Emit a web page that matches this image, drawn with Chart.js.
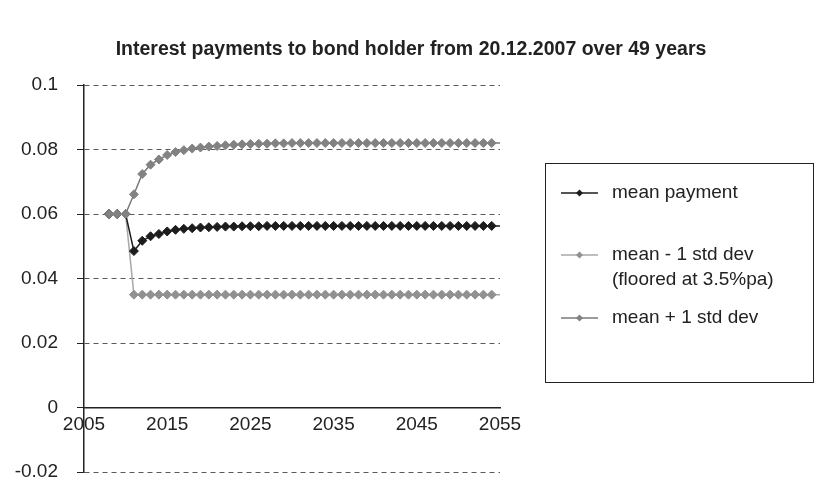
<!DOCTYPE html>
<html>
<head>
<meta charset="utf-8">
<script src="https://cdn.jsdelivr.net/npm/chart.js@4"></script>
<style>
  html, body { margin: 0; padding: 0; background: #fff; }
  #wrapper-chart { width: 814px; height: 480px; }
</style>
</head>
<body>
<div id="wrapper-chart"><canvas id="myChart"></canvas></div>
<script>

  ////////////////////
 // DONNÉES        //
////////////////////

const years = [2008, 2009, 2010, 2011, 2012, 2013, 2014, 2015, 2016, 2017,
               2018, 2019, 2020, 2021, 2022, 2023, 2024, 2025, 2026, 2027,
               2028, 2029, 2030, 2031, 2032, 2033, 2034, 2035, 2036, 2037,
               2038, 2039, 2040, 2041, 2042, 2043, 2044, 2045, 2046, 2047,
               2048, 2049, 2050, 2051, 2052, 2053, 2054, 2055, 2056];

const meanPayment = [0.06, 0.06, 0.06, 0.0485, 0.0517, 0.0531, 0.0538, 0.0546, 0.0551, 0.0554,
                     0.0556, 0.0558, 0.0559, 0.0560, 0.0561, 0.0561, 0.0562, 0.0562, 0.0562, 0.0563,
                     0.0563, 0.0563, 0.0563, 0.0563, 0.0563, 0.0563, 0.0563, 0.0563, 0.0563, 0.0563,
                     0.0563, 0.0563, 0.0563, 0.0563, 0.0563, 0.0563, 0.0563, 0.0563, 0.0563, 0.0563,
                     0.0563, 0.0563, 0.0563, 0.0563, 0.0563, 0.0563, 0.0563, 0.0563, 0.0563];

const meanMinusStd = [0.06, 0.06, 0.06, 0.035, 0.035, 0.035, 0.035, 0.035, 0.035, 0.035,
                      0.035, 0.035, 0.035, 0.035, 0.035, 0.035, 0.035, 0.035, 0.035, 0.035,
                      0.035, 0.035, 0.035, 0.035, 0.035, 0.035, 0.035, 0.035, 0.035, 0.035,
                      0.035, 0.035, 0.035, 0.035, 0.035, 0.035, 0.035, 0.035, 0.035, 0.035,
                      0.035, 0.035, 0.035, 0.035, 0.035, 0.035, 0.035, 0.035, 0.035];

const meanPlusStd = [0.06, 0.06, 0.06, 0.0661, 0.0724, 0.0753, 0.0769, 0.0783, 0.0792, 0.0798,
                     0.0803, 0.0806, 0.0809, 0.0811, 0.0813, 0.0815, 0.0816, 0.0817, 0.0818, 0.0818,
                     0.0819, 0.0819, 0.0820, 0.082, 0.082, 0.082, 0.082, 0.082, 0.082, 0.082,
                     0.082, 0.082, 0.082, 0.082, 0.082, 0.082, 0.082, 0.082, 0.082, 0.082,
                     0.082, 0.082, 0.082, 0.082, 0.082, 0.082, 0.082, 0.082, 0.082];

const seriesLabels = [['mean payment'], ['mean - 1 std dev', '(floored at 3.5%pa)'], ['mean + 1 std dev']];
const chartTitle = 'Interest payments to bond holder from 20.12.2007 over 49 years';

const xTicks = [2005, 2015, 2025, 2035, 2045, 2055];
const yMin = -0.02;
const yMax = 0.1;
const yStep = 0.02;


  ////////////////////
 // HELPERS        //
////////////////////

const FONT = '"Liberation Sans", Arial, Helvetica, sans-serif';

const toPoints = values => values.map((v, i) => ({ x: years[i], y: v }));

// markers stop at the last year shown on the axis
const markerRadius = r => ctx => (ctx.raw && ctx.raw.x > 2054.5 ? 0 : r);


  ////////////////////
 // PLUGIN LÉGENDE //
////////////////////

const titleAndLegend = {
  id: 'titleAndLegend',
  afterDraw(chart) {
    const ctx = chart.ctx;
    ctx.save();

    // titre
    ctx.fillStyle = '#222';
    ctx.font = 'bold 19.5px ' + FONT;
    ctx.textAlign = 'center';
    ctx.textBaseline = 'middle';
    ctx.fillText(chartTitle, 411, 50);

    // cadre
    ctx.strokeStyle = '#222';
    ctx.lineWidth = 1;
    ctx.strokeRect(545.5, 163.5, 268, 219);

    const rows = [193, 255, 318];
    ctx.font = '19px ' + FONT;
    ctx.textAlign = 'left';
    chart.data.datasets.forEach((ds, i) => {
      const y = rows[i];
      ctx.strokeStyle = ds.borderColor;
      ctx.lineWidth = 1.5;
      ctx.beginPath();
      ctx.moveTo(561, y);
      ctx.lineTo(598, y);
      ctx.stroke();

      ctx.fillStyle = ds.pointBackgroundColor;
      ctx.beginPath();
      ctx.moveTo(579.5 - 3.5, y);
      ctx.lineTo(579.5, y - 3.5);
      ctx.lineTo(579.5 + 3.5, y);
      ctx.lineTo(579.5, y + 3.5);
      ctx.closePath();
      ctx.fill();

      ctx.fillStyle = '#222';
      seriesLabels[i].forEach((line, k) => {
        ctx.fillText(line, 612, y + k * 25);
      });
    });

    ctx.restore();
  }
};


  ////////////////////
 // GRAPHIQUE      //
////////////////////

const ctxChart = document.getElementById('myChart').getContext('2d');

new Chart(ctxChart, {
  type: 'line',
  data: {
    datasets: [
      {
        label: seriesLabels[0].join(' '),
        data: toPoints(meanPayment),
        borderColor: '#1c1c1c',
        backgroundColor: '#1c1c1c',
        pointBackgroundColor: '#1c1c1c',
        pointBorderColor: '#1c1c1c',
        borderWidth: 1.5,
        pointStyle: 'rectRot',
        pointRadius: markerRadius(4.5),
        pointBorderWidth: 1,
        order: 2
      },
      {
        label: seriesLabels[1].join(' '),
        data: toPoints(meanMinusStd),
        borderColor: '#a8a8a8',
        backgroundColor: '#919191',
        pointBackgroundColor: '#919191',
        pointBorderColor: '#919191',
        borderWidth: 1.5,
        pointStyle: 'rectRot',
        pointRadius: markerRadius(4.5),
        pointBorderWidth: 1,
        order: 3
      },
      {
        label: seriesLabels[2].join(' '),
        data: toPoints(meanPlusStd),
        borderColor: '#7a7a7a',
        backgroundColor: '#828282',
        pointBackgroundColor: '#828282',
        pointBorderColor: '#828282',
        borderWidth: 1.5,
        pointStyle: 'rectRot',
        pointRadius: markerRadius(4.5),
        pointBorderWidth: 1,
        order: 1
      }
    ]
  },
  options: {
    responsive: true,
    maintainAspectRatio: false,
    animation: false,
    layout: { padding: { left: 0, right: 314, top: 85, bottom: 8 } },
    plugins: {
      legend: { display: false },
      title: { display: false },
      tooltip: { enabled: false }
    },
    scales: {
      x: {
        type: 'linear',
        position: { y: 0 },
        min: 2005,
        max: 2055,
        afterBuildTicks: scale => { scale.ticks = xTicks.map(v => ({ value: v })); },
        afterFit: scale => { scale.height = 0; },
        grid: { display: false, drawTicks: false },
        border: { display: true, color: '#222', width: 1.5 },
        ticks: {
          color: '#222',
          padding: 6,
          maxRotation: 0,
          font: { family: FONT, size: 19 },
          callback: v => String(v)
        }
      },
      y: {
        min: yMin,
        max: yMax,
        afterFit: scale => {
          scale.width = 84;
          scale.paddingTop = 0;
          scale.paddingBottom = 0;
        },
        grid: {
          color: ctx => (ctx.tick && Math.abs(ctx.tick.value) < 1e-9 ? 'rgba(0,0,0,0)' : '#5a5a5a'),
          lineWidth: 1,
          tickLength: 7,
          tickColor: '#222',
          tickBorderDash: []
        },
        // border.dash : pointillés des lignes de grille
        border: { display: true, color: '#222', width: 1.5, dash: [5, 4] },
        ticks: {
          stepSize: yStep,
          color: '#222',
          padding: 19,
          font: { family: FONT, size: 19 },
          callback: v => String(Math.round(v * 100) / 100)
        }
      }
    }
  },
  plugins: [titleAndLegend]
});
</script>
</body>
</html>
